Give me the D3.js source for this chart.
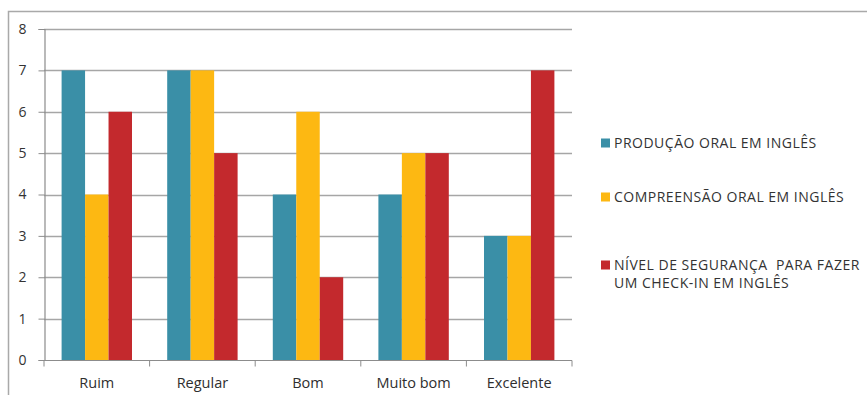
<!DOCTYPE html>
<html>
<head>
<meta charset="utf-8">
<script src="https://cdn.jsdelivr.net/npm/d3@7"></script>
<style>
  html, body { margin: 0; padding: 0; background: #fff; }
  svg { display: block; font-family: "Open Sans", sans-serif; }
</style>
</head>
<body>
<svg id="chart" width="867" height="395"></svg>
<script>
// Categories and series values
const categories = ["Ruim", "Regular", "Bom", "Muito bom", "Excelente"];
const legendLines = [
  ["PRODUÇÃO ORAL EM INGLÊS"],
  ["COMPREENSÃO ORAL EM INGLÊS"],
  ["NÍVEL DE SEGURANÇA  PARA FAZER", "UM CHECK-IN EM INGLÊS"]
];
const producaoOral = [7, 7, 4, 4, 3];
const compreensaoOral = [4, 7, 6, 5, 3];
const seguranca = [6, 5, 2, 5, 7];
const yTicks = [0, 1, 2, 3, 4, 5, 6, 7, 8];
const colors = ["#3a8fa7", "#fdb812", "#c3292d"];

const series = [producaoOral, compreensaoOral, seguranca];

const svg = d3.select("#chart");

// Outer chart frame
svg.append("rect")
  .attr("x", 8.5).attr("y", 11.5)
  .attr("width", 900).attr("height", 420)
  .attr("fill", "#fff")
  .attr("stroke", "#a9a9a9").attr("stroke-width", 1.5);

const plot = { left: 44, right: 572, top: 29, bottom: 360 };

const x0 = d3.scaleBand().domain(categories).range([plot.left, plot.right]).paddingInner(0).paddingOuter(0);
const groupWidth = x0.bandwidth() * 3 / 4.5;
const x1 = d3.scaleBand().domain(d3.range(series.length)).range([0, groupWidth]).padding(0);
const y = d3.scaleLinear().domain([0, 8]).range([plot.bottom, plot.top]);

// Gridlines
svg.append("g")
  .selectAll("line")
  .data(yTicks.filter(t => t > 0))
  .join("line")
  .attr("x1", plot.left).attr("x2", plot.right)
  .attr("y1", d => Math.round(y(d)) + 0.5).attr("y2", d => Math.round(y(d)) + 0.5)
  .attr("stroke", "#a6a6a6").attr("stroke-width", 1.3);

// Bars
const groups = svg.append("g")
  .selectAll("g")
  .data(categories)
  .join("g")
  .attr("transform", d => `translate(${x0(d) + (x0.bandwidth() - groupWidth) / 2},0)`);

groups.selectAll("rect")
  .data((d, i) => series.map((s, k) => ({ k, v: s[i] })))
  .join("rect")
  .attr("x", d => x1(d.k))
  .attr("width", x1.bandwidth())
  .attr("y", d => y(d.v))
  .attr("height", d => y(0) - y(d.v))
  .attr("fill", d => colors[d.k]);

// Y axis
const yAxis = d3.axisLeft(y).tickValues(yTicks).tickSize(6).tickPadding(12).tickFormat(d3.format("d"));
const gy = svg.append("g").attr("transform", `translate(${plot.left + 0.5},0)`).call(yAxis);
gy.select(".domain").attr("stroke", "#8c8c8c").attr("stroke-width", 1.2);
gy.selectAll(".tick line").attr("stroke", "#8c8c8c");
gy.selectAll(".tick text").attr("font-size", 14).attr("fill", "#333").attr("font-family", "Open Sans, sans-serif");

// X axis with ticks at category boundaries
const gx = svg.append("g").attr("transform", `translate(0,${plot.bottom + 0.5})`);
gx.append("line")
  .attr("x1", plot.left).attr("x2", plot.right)
  .attr("stroke", "#8c8c8c").attr("stroke-width", 1.2);
gx.selectAll("line.tk")
  .data(categories.map(c => x0(c)).concat([plot.right]))
  .join("line")
  .attr("class", "tk")
  .attr("x1", d => d).attr("x2", d => d)
  .attr("y1", 0).attr("y2", 6)
  .attr("stroke", "#8c8c8c");
gx.selectAll("text")
  .data(categories)
  .join("text")
  .attr("x", d => x0(d) + x0.bandwidth() / 2)
  .attr("y", 22)
  .attr("dy", "0.35em")
  .attr("text-anchor", "middle")
  .attr("font-size", 14.5)
  .attr("fill", "#2e2e2e")
  .text(d => d);

// Legend
const legendY = [143, 197, 265];
const legend = svg.append("g");
legendLines.forEach((lines, i) => {
  legend.append("rect")
    .attr("x", 601).attr("y", legendY[i] - 4.5)
    .attr("width", 9).attr("height", 9)
    .attr("fill", colors[i]);
  lines.forEach((ln, j) => {
    legend.append("text")
      .attr("x", 614)
      .attr("y", legendY[i] + j * 18)
      .attr("dy", "0.35em")
      .attr("font-size", 14)
      .attr("letter-spacing", 0.5)
      .attr("fill", "#333")
      .attr("style", "white-space: pre")
      .text(ln);
  });
});
</script>
</body>
</html>
